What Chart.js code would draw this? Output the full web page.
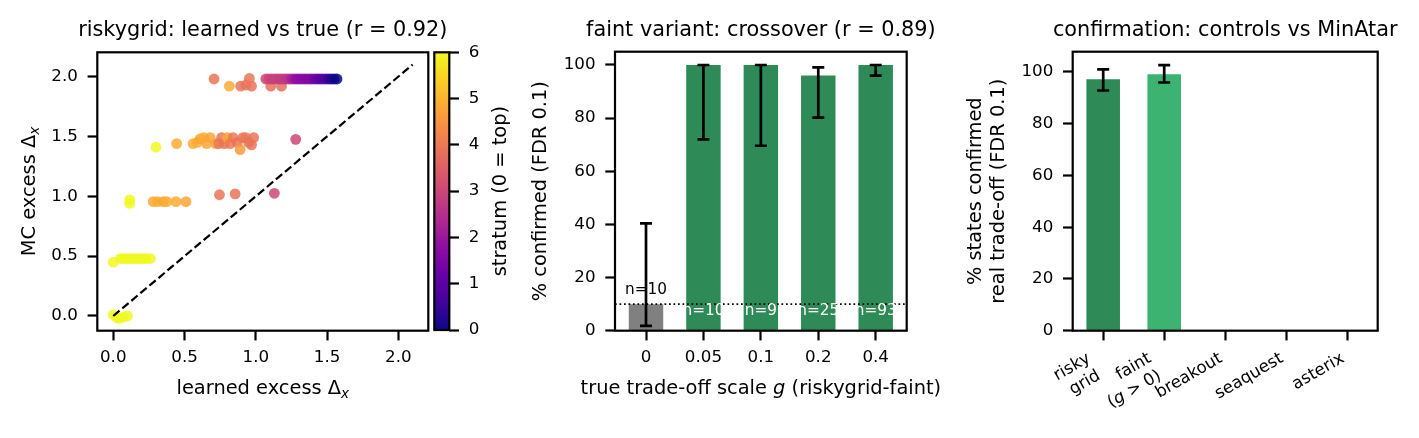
<!DOCTYPE html>
<html>
<head>
<meta charset="utf-8">
<title>riskygrid trade-off panels</title>
<script src="https://cdn.jsdelivr.net/npm/chart.js@4.4.0/dist/chart.umd.min.js"></script>
<style>
  html, body { margin: 0; padding: 0; background: #fff; }
  #page { position: relative; width: 1419px; height: 438px; overflow: hidden; background: #fff; }
  .panel { position: absolute; top: 0; height: 438px; }
</style>
</head>
<body>
<div id="page">
  <div class="panel" style="left:0px;width:470px"><canvas id="scatter"></canvas></div>
  <div class="panel" style="left:420px;width:100px"><canvas id="colorbar"></canvas></div>
  <div class="panel" style="left:520px;width:430px"><canvas id="crossover"></canvas></div>
  <div class="panel" style="left:950px;width:469px"><canvas id="confirm"></canvas></div>
</div>
<script>
// ---- panel 1: learned vs true excess (one entry per state) ----
const learnedX = [
    0.00, 0.02, 0.04, 0.07, 0.10,
    0.00, 0.05, 0.07, 0.09, 0.11, 0.13, 0.15, 0.17, 0.19, 0.21, 0.23, 0.26,
    0.115, 0.115, 0.28, 0.31, 0.35, 0.375, 0.44, 0.51, 0.745, 0.855, 1.13,
    0.30, 0.445, 0.56, 0.59, 0.61, 0.635, 0.655, 0.68, 0.72, 0.74, 0.76, 0.78, 0.80, 0.82, 0.84, 0.87, 0.89, 0.91, 0.93, 0.95, 0.97, 0.985, 1.28,
    0.707, 0.814, 0.894, 0.93, 0.955, 0.97, 1.105, 1.18,
    1.07, 1.09, 1.11, 1.13, 1.15, 1.17, 1.19, 1.21, 1.23, 1.25, 1.27, 1.29, 1.31, 1.33, 1.35, 1.37, 1.39, 1.41, 1.43, 1.45, 1.47, 1.49, 1.51, 1.53, 1.55, 1.57
];
const mcExcess = [
    0.01, -0.01, -0.02, -0.01, 0.00,
    0.45, 0.48, 0.48, 0.48, 0.48, 0.48, 0.48, 0.48, 0.48, 0.48, 0.48, 0.48,
    0.97, 0.94, 0.955, 0.955, 0.955, 0.955, 0.955, 0.955, 1.013, 1.02, 1.025,
    1.41, 1.44, 1.44, 1.45, 1.48, 1.49, 1.44, 1.49, 1.44, 1.44, 1.49, 1.44, 1.49, 1.44, 1.49, 1.45, 1.39, 1.49, 1.49, 1.45, 1.43, 1.49, 1.476,
    1.98, 1.92, 1.92, 1.93, 1.985, 1.92, 1.92, 1.92,
    1.98, 1.98, 1.98, 1.98, 1.98, 1.98, 1.98, 1.98, 1.98, 1.98, 1.98, 1.98, 1.98, 1.98, 1.98, 1.98, 1.98, 1.98, 1.98, 1.98, 1.98, 1.98, 1.98, 1.98, 1.98, 1.98
];
const stratum = [
    6, 6, 6, 6, 6,
    6, 6, 6, 6, 6, 6, 6, 6, 6, 6, 6, 6,
    6, 6, 4.9, 4.9, 4.8, 4.9, 4.9, 4.8, 3.9, 3.9, 3.0,
    6, 4.9, 4.9, 4.9, 4.8, 4.9, 4.8, 4.8, 4.7, 4.0, 3.9, 3.9, 4.8, 4.0, 4.0, 3.9, 4.6, 3.9, 4.0, 3.9, 3.9, 3.9, 3.0,
    3.9, 4.9, 3.9, 3.9, 3.9, 3.9, 3.8, 3.8,
    3.0, 3.0, 2.9, 2.9, 2.9, 2.8, 2.8, 2.7, 2.6, 2.3, 2.0, 1.8, 1.8, 1.7, 1.7, 1.6, 1.6, 1.4, 1.2, 1.0, 0.9, 0.8, 0.5, 0.3, 0.1, 0.0
];
const identityLine = [0, 2.1];
const scatterXTicks = [0, 0.5, 1, 1.5, 2];
const scatterYTicks = [0, 0.5, 1, 1.5, 2];
const stratumTicks = [0, 1, 2, 3, 4, 5, 6];
const stratumRange = [0, 6];

// ---- panel 2: faint variant crossover ----
const gLabels = ['0', '0.05', '0.1', '0.2', '0.4'];
const confirmedPct = [10, 100, 100, 96, 100];
const confirmedLow = [1.8, 72, 69.6, 80.2, 96];
const confirmedHigh = [40.4, 100, 100, 99.1, 100];
const stateCounts = [10, 10, 9, 25, 93];
const fdrLevel = 10;
const pctTicks = [0, 20, 40, 60, 80, 100];

// ---- panel 3: controls vs MinAtar ----
const envLabels = [['risky', 'grid'], ['faint', '(*g* > 0)'], ['breakout'], ['seaquest'], ['asterix']];
const envPct = [97.2, 99.1, null, null, null];
const envLow = [92.8, 95.9, null, null, null];
const envHigh = [101.0, 102.6, null, null, null];

// axis limits (matplotlib auto margins)
const scatterXRange = [-0.112, 2.21];
const scatterYRange = [-0.123, 2.203];
const crossXRange = [-0.54, 4.54];
const crossYMax = 105;
const confirmYMax = 107.8;

const FONT = 'DejaVu Sans';
const TICK = 16.7, LABEL = 19.4, TITLE = 20.8;
Chart.defaults.font.family = FONT;
Chart.defaults.font.size = TICK;
Chart.defaults.color = '#000';

const plasmaStops = ['#0d0887', '#41049d', '#6a00a8', '#8f0da4', '#b12a90', '#cc4778',
    '#e16462', '#f2844b', '#fca636', '#fcce25', '#f0f921'];

function hexRgb(h) {
    return [parseInt(h.slice(1, 3), 16), parseInt(h.slice(3, 5), 16), parseInt(h.slice(5, 7), 16)];
}

function plasma(t, alpha) {
    t = Math.min(1, Math.max(0, t));
    const f = t * 10;
    const i = Math.min(9, Math.floor(f));
    const u = f - i;
    const a = hexRgb(plasmaStops[i]), b = hexRgb(plasmaStops[i + 1]);
    const c = a.map((v, k) => Math.round(v + (b[k] - v) * u));
    return 'rgba(' + c[0] + ',' + c[1] + ',' + c[2] + ',' + alpha + ')';
}

// text with *italic* and _italic subscript_ pieces
function drawRich(ctx, text, x, y, size, rotation, align) {
    const parts = text.split(/(\*[^*]+\*|_[^_]+_)/).filter(p => p.length);
    const pieces = parts.map(p => {
        if (p[0] === '*') return {t: p.slice(1, -1), font: 'italic ' + size + 'px "' + FONT + '"', dy: 0};
        if (p[0] === '_') return {t: p.slice(1, -1), font: 'italic ' + (size * 0.7) + 'px "' + FONT + '"', dy: size * 0.22};
        return {t: p, font: size + 'px "' + FONT + '"', dy: 0};
    });
    ctx.save();
    ctx.translate(x, y);
    ctx.rotate(rotation || 0);
    ctx.fillStyle = '#000';
    ctx.textBaseline = 'alphabetic';
    ctx.textAlign = 'left';
    let total = 0;
    pieces.forEach(p => { ctx.font = p.font; p.w = ctx.measureText(p.t).width; total += p.w; });
    let cx = align === 'right' ? -total : (align === 'left' ? 0 : -total / 2);
    pieces.forEach(p => {
        ctx.font = p.font;
        ctx.fillText(p.t, cx, p.dy);
        cx += p.w;
    });
    ctx.restore();
}

function textPlugin(items) {
    return {
        id: 'panelText',
        afterDraw(chart) {
            const a = chart.chartArea;
            items.forEach(it => {
                const x = it.x === 'mid' ? (a.left + a.right) / 2 : it.x;
                const y = it.y === 'mid' ? (a.top + a.bottom) / 2 : it.y;
                drawRich(chart.ctx, it.text, x, y, it.size, it.rotation, it.align);
            });
        }
    };
}

const framePlugin = {
    id: 'frame',
    afterDraw(chart) {
        const {ctx, chartArea: a} = chart;
        ctx.save();
        ctx.strokeStyle = '#000';
        ctx.lineWidth = 2.2;
        ctx.strokeRect(a.left, a.top, a.right - a.left, a.bottom - a.top);
        ctx.restore();
    }
};

function errorBarPlugin(datasetIndex, low, high) {
    return {
        id: 'errorBars',
        afterDatasetsDraw(chart) {
            const {ctx} = chart;
            const y = chart.scales.y;
            const meta = chart.getDatasetMeta(datasetIndex);
            ctx.save();
            ctx.strokeStyle = '#000';
            ctx.lineWidth = 2.7;
            low.forEach((lo, i) => {
                if (lo === null) return;
                const x = meta.data[i].x;
                const y0 = y.getPixelForValue(lo), y1 = y.getPixelForValue(high[i]);
                ctx.beginPath();
                ctx.moveTo(x, y0); ctx.lineTo(x, y1);
                ctx.moveTo(x - 6, y0); ctx.lineTo(x + 6, y0);
                ctx.moveTo(x - 6, y1); ctx.lineTo(x + 6, y1);
                ctx.stroke();
            });
            ctx.restore();
        }
    };
}

function tickGrid() {
    return {display: true, drawOnChartArea: false, drawTicks: true, tickLength: 9.7,
        tickWidth: 2.2, tickColor: '#000', offset: false};
}

function fixTicks(values) {
    return function (scale) { scale.ticks = values.map(v => ({value: v})); };
}

const common = {
    responsive: true,
    maintainAspectRatio: false,
    animation: false,
    events: [],
    plugins: {legend: {display: false}, tooltip: {enabled: false}, title: {display: false}}
};

// ---- panel 1 ----
new Chart(document.getElementById('scatter'), {
    type: 'scatter',
    data: {
        datasets: [{
            type: 'line',
            data: identityLine.map(v => ({x: v, y: v})),
            borderColor: '#000',
            borderWidth: 2.2,
            borderDash: [8.2, 3.6],
            pointRadius: 0,
            fill: false,
            order: 0
        }, {
            data: learnedX.map((x, i) => ({x: x, y: mcExcess[i]})),
            pointBackgroundColor: stratum.map(s => plasma(s / 6, 0.85)),
            pointBorderWidth: 0,
            pointRadius: 5.4,
            order: 1
        }]
    },
    options: Object.assign({}, common, {
        layout: {autoPadding: false, padding: {left: 0, right: 470 - 428.3, top: 52.3, bottom: 0}},
        scales: {
            x: {
                type: 'linear', min: scatterXRange[0], max: scatterXRange[1], offset: false,
                border: {display: false}, grid: tickGrid(),
                afterBuildTicks: fixTicks(scatterXTicks),
                afterFit: s => { s.height = 107.3; },
                ticks: {padding: 7, callback: v => v.toFixed(1)}
            },
            y: {
                type: 'linear', min: scatterYRange[0], max: scatterYRange[1],
                border: {display: false}, grid: tickGrid(),
                afterBuildTicks: fixTicks(scatterYTicks),
                afterFit: s => { s.width = 97.3; },
                ticks: {padding: 9.7, callback: v => v.toFixed(1)}
            }
        }
    }),
    plugins: [framePlugin, textPlugin([
        {text: 'riskygrid: learned vs true (r = 0.92)', x: 'mid', y: 36, size: TITLE},
        {text: 'learned excess Δ_x_', x: 'mid', y: 394, size: LABEL},
        {text: 'MC excess Δ_x_', x: 35, y: 'mid', size: LABEL, rotation: -Math.PI / 2}
    ])]
});

// ---- colorbar ----
new Chart(document.getElementById('colorbar'), {
    type: 'bar',
    data: {
        labels: ['stratum'],
        datasets: [{
            data: [stratumRange],
            barPercentage: 1,
            categoryPercentage: 1,
            borderWidth: 0,
            backgroundColor: ctx => {
                const a = ctx.chart.chartArea;
                if (!a) return plasmaStops[5];
                const g = ctx.chart.ctx.createLinearGradient(0, a.bottom, 0, a.top);
                plasmaStops.forEach((c, i) => g.addColorStop(i / 10, c));
                return g;
            }
        }]
    },
    options: Object.assign({}, common, {
        layout: {autoPadding: false, padding: {left: 14.3, right: 0, top: 52.3, bottom: 108}},
        scales: {
            x: {display: false},
            y: {
                position: 'right', min: stratumRange[0], max: stratumRange[1],
                border: {display: false}, grid: tickGrid(),
                afterBuildTicks: fixTicks(stratumTicks),
                afterFit: s => { s.width = 70.7; },
                ticks: {padding: 9.7, callback: v => String(v)}
            }
        }
    }),
    plugins: [framePlugin, textPlugin([
        {text: 'stratum (0 = top)', x: 86, y: 'mid', size: LABEL, rotation: -Math.PI / 2}
    ])]
});

// ---- panel 2 ----
const crossoverText = {
    id: 'countLabels',
    afterDatasetsDraw(chart) {
        const {ctx} = chart;
        const y = chart.scales.y;
        const meta = chart.getDatasetMeta(1);
        ctx.save();
        ctx.font = '15.3px "' + FONT + '"';
        ctx.textAlign = 'center';
        ctx.textBaseline = 'alphabetic';
        stateCounts.forEach((n, i) => {
            const x = meta.data[i].x;
            if (confirmedPct[i] > 50) {
                ctx.fillStyle = '#fff';
                ctx.fillText('n=' + n, x, y.getPixelForValue(0) - 15.7);
            } else {
                ctx.fillStyle = '#000';
                ctx.fillText('n=' + n, x, y.getPixelForValue(confirmedPct[i]) - 9.7);
            }
        });
        ctx.restore();
    }
};

new Chart(document.getElementById('crossover'), {
    type: 'bar',
    data: {
        datasets: [{
            type: 'line',
            data: crossXRange.map(x => ({x: x, y: fdrLevel})),
            borderColor: '#000',
            borderWidth: 1.7,
            borderDash: [1.7, 2.8],
            pointRadius: 0,
            fill: false,
            order: 0
        }, {
            data: gLabels.map((g, i) => ({x: i, y: confirmedPct[i]})),
            backgroundColor: gLabels.map(g => Number(g) === 0 ? '#808080' : '#2e8b57'),
            borderWidth: 0,
            barPercentage: 0.6,
            categoryPercentage: 1,
            order: 1
        }]
    },
    options: Object.assign({}, common, {
        layout: {autoPadding: false, padding: {left: 9.8, right: 430 - 386.7, top: 51.7, bottom: 0}},
        scales: {
            x: {
                type: 'linear', min: crossXRange[0], max: crossXRange[1], offset: false,
                border: {display: false}, grid: tickGrid(),
                afterBuildTicks: fixTicks(gLabels.map((g, i) => i)),
                afterFit: s => { s.height = 107.3; },
                ticks: {padding: 7, callback: v => gLabels[v]}
            },
            y: {
                min: 0, max: crossYMax,
                border: {display: false}, grid: tickGrid(),
                afterBuildTicks: fixTicks(pctTicks),
                afterFit: s => { s.width = 85.2; },
                ticks: {padding: 9.7, callback: v => String(v)},
                title: {display: true, text: '% confirmed (FDR 0.1)', font: {size: LABEL}, padding: 0}
            }
        }
    }),
    plugins: [crossoverText, errorBarPlugin(1, confirmedLow, confirmedHigh), framePlugin, textPlugin([
        {text: 'faint variant: crossover (r = 0.89)', x: 'mid', y: 36, size: TITLE},
        {text: 'true trade-off scale *g* (riskygrid-faint)', x: 'mid', y: 394, size: LABEL}
    ])]
});

// ---- panel 3 ----
const envTickText = {
    id: 'envTicks',
    afterDraw(chart) {
        const xs = chart.scales.x;
        const rot = -Math.PI / 6;
        const lh = TICK * 1.2;
        envLabels.forEach((lines, i) => {
            const tx = xs.getPixelForValue(i);
            const n = lines.length;
            lines.forEach((line, j) => {
                const ex = tx - 2 - (n - 1) * lh * 0.5 + j * lh * 0.5;
                const ey = 361.1 + j * lh * 0.866;
                drawRich(chart.ctx, line, ex, ey, TICK, rot, 'right');
            });
        });
    }
};

new Chart(document.getElementById('confirm'), {
    type: 'bar',
    data: {
        labels: envLabels.map(l => l.join(' ')),
        datasets: [{
            data: envPct,
            backgroundColor: ['#2e8b57', '#3cb371', '#2e8b57', '#2e8b57', '#2e8b57'],
            borderWidth: 0,
            barPercentage: 0.55,
            categoryPercentage: 1
        }]
    },
    options: Object.assign({}, common, {
        layout: {autoPadding: false, padding: {left: 14.2, right: 469 - 427.7, top: 51.7, bottom: 0}},
        scales: {
            x: {
                border: {display: false}, grid: tickGrid(),
                afterFit: s => { s.height = 107.3; },
                ticks: {display: false}
            },
            y: {
                min: 0, max: confirmYMax,
                border: {display: false}, grid: tickGrid(),
                afterBuildTicks: fixTicks(pctTicks),
                afterFit: s => { s.width = 108.5; },
                ticks: {padding: 9.7, callback: v => String(v)},
                title: {display: true, text: ['% states confirmed', 'real trade-off (FDR 0.1)'],
                    font: {size: LABEL}, padding: 0}
            }
        }
    }),
    plugins: [errorBarPlugin(0, envLow, envHigh), framePlugin, envTickText, textPlugin([
        {text: 'confirmation: controls vs MinAtar', x: 'mid', y: 36, size: TITLE}
    ])]
});
</script>
</body>
</html>
